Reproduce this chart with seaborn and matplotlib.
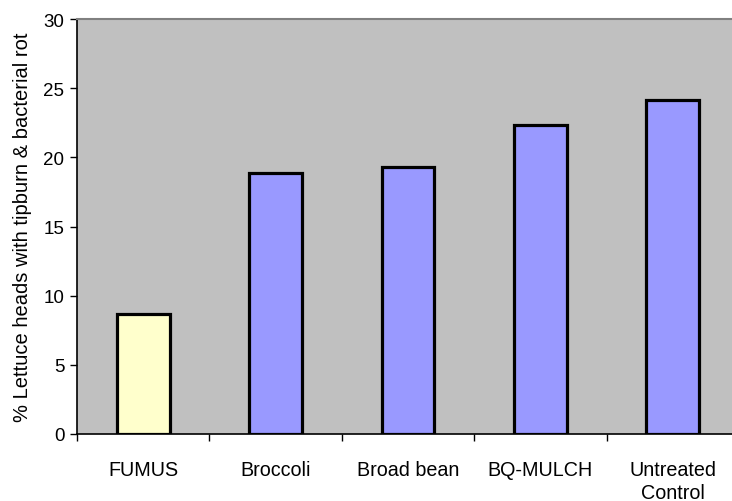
import matplotlib
matplotlib.use("Agg")
import matplotlib.pyplot as plt
import seaborn as sns
import pandas as pd

categories = ["FUMUS", "Broccoli", "Broad bean", "BQ-MULCH", "Untreated\nControl"]
values = [8.7, 18.85, 19.3, 22.35, 24.15]
bar_colors = ["#FFFFCC", "#9999FF", "#9999FF", "#9999FF", "#9999FF"]
yticks = [0, 5, 10, 15, 20, 25, 30]
ylabel = "% Lettuce heads with tipburn & bacterial rot"

sns.set_theme(style="white")
plt.rcParams["font.family"] = ["Liberation Sans", "DejaVu Sans"]
plt.rcParams.update({"text.color": "black", "axes.labelcolor": "black",
                     "xtick.color": "black", "ytick.color": "black"})

df = pd.DataFrame({"cat": categories, "val": values})

W, H = 732, 502
fig = plt.figure(figsize=(W / 100, H / 100), dpi=100)
left, right, top, bottom = 77, 739, 20, 435
ax = fig.add_axes([left / W, 1 - bottom / H, (right - left) / W, (bottom - top) / H])
ax.set_facecolor("#C0C0C0")

sns.barplot(data=df, x="cat", y="val", hue="cat", palette=bar_colors, legend=False,
            width=0.4, edgecolor="black", linewidth=2.3, saturation=1, ax=ax)

ax.set_ylim(0, 30)
ax.set_xlim(-0.5, len(categories) - 0.5)
ax.set_yticks(yticks)
ax.set_yticklabels([str(t) for t in yticks], fontsize=13.5)
ax.set_xticks(range(len(categories)))
ax.set_xticklabels(categories, fontsize=14.2, linespacing=1.25)
ax.tick_params(axis="x", length=0, pad=19)
ax.tick_params(axis="y", length=5, width=1, color="black", direction="out", left=True, pad=4)
ax.set_xticks([i + 0.5 for i in range(-1, len(categories))], minor=True)
ax.tick_params(axis="x", which="minor", length=5, width=1, color="black", direction="out", bottom=True)
ax.set_xlabel("")
ax.set_ylabel(ylabel, fontsize=14.5, labelpad=8)

for s in ["left", "bottom"]:
    ax.spines[s].set_color("black")
    ax.spines[s].set_linewidth(1.2)
ax.spines["top"].set_color("#808080")
ax.spines["top"].set_linewidth(1.5)
ax.spines["right"].set_visible(False)

fig.savefig("out.png", dpi=100)
